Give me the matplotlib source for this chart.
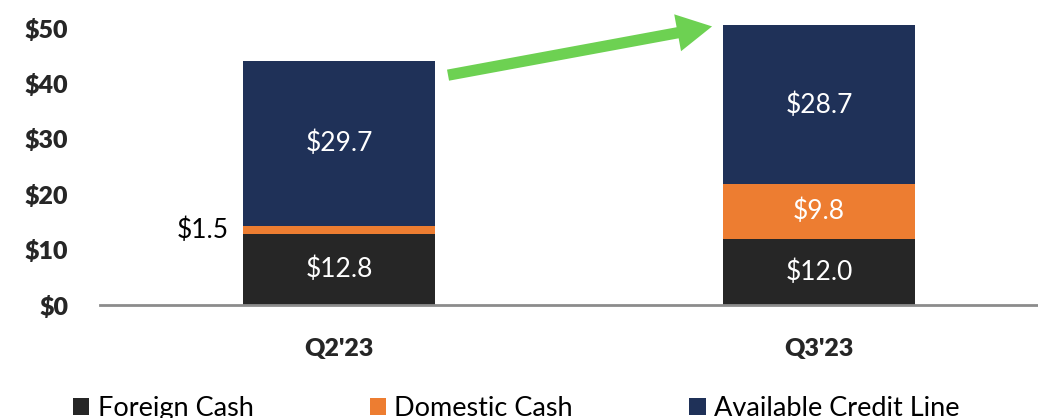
import matplotlib.pyplot as plt
import numpy as np

# ---------------- DATA ----------------
quarters = ["Q2'23", "Q3'23"]
foreign_cash = [12.8, 12.0]
domestic_cash = [1.5, 9.8]
credit_line = [29.7, 28.7]
series_names = ["Foreign Cash", "Domestic Cash", "Available Credit Line"]
y_ticks = [0, 10, 20, 30, 40, 50]
# --------------------------------------

COLORS = ["#262626", "#ED7D31", "#1F3158"]
FONT = ["Lato", "DejaVu Sans"]

plt.rcParams["font.family"] = FONT

fig = plt.figure(figsize=(10.38, 4.18), dpi=100)
ax = fig.add_axes([100 / 1038, 113 / 418, 938 / 1038, 288 / 418])

x = np.arange(len(quarters))
width = 0.4
series = [foreign_cash, domestic_cash, credit_line]
bottom = np.zeros(len(quarters))
for vals, name, color in zip(series, series_names, COLORS):
    vals = np.array(vals)
    ax.bar(x, vals, width, bottom=bottom, color=color, label=name)
    for xi, b, v in zip(x, bottom, vals):
        if v >= 5:
            ax.text(xi, b + v / 2, f"${v:.1f}", ha="center", va="center",
                    color="white", fontsize=19)
        else:
            ax.annotate(f"${v:.1f}", (xi - width / 2, b + v / 2),
                        xytext=(-10, 0), textcoords="offset points",
                        ha="right", va="center", color="black", fontsize=19)
    bottom = bottom + vals

# growth arrow
ax.annotate("", xy=(0.777, 50.3), xytext=(0.227, 41.5),
            arrowprops=dict(arrowstyle="simple,head_width=1.5,head_length=1.4,tail_width=0.45",
                            mutation_scale=18, color="#6DD152", lw=0,
                            shrinkA=0, shrinkB=0),
            annotation_clip=False)

ax.set_xlim(-0.498, 1.456)
ax.set_ylim(0, 52)
ax.set_yticks(y_ticks)
ax.set_yticklabels([f"${t}" for t in y_ticks], fontsize=18, fontweight="heavy",
                   color="#262626")
ax.set_xticks(x)
ax.set_xticklabels(quarters, fontsize=18, fontweight="heavy", color="#262626")
ax.tick_params(axis="x", length=0, pad=24)
ax.tick_params(axis="y", length=0, pad=23)

for s in ["top", "right", "left"]:
    ax.spines[s].set_visible(False)
ax.spines["bottom"].set_color("#8C8C8C")
ax.spines["bottom"].set_linewidth(2)

fig.legend(loc="lower left", bbox_to_anchor=(0.047, -0.065), ncol=3,
           frameon=False, fontsize=19.5, handlelength=0.6, handleheight=0.6,
           handletextpad=0.3, columnspacing=4.3)

plt.savefig("out.png", dpi=100)
plt.close()
